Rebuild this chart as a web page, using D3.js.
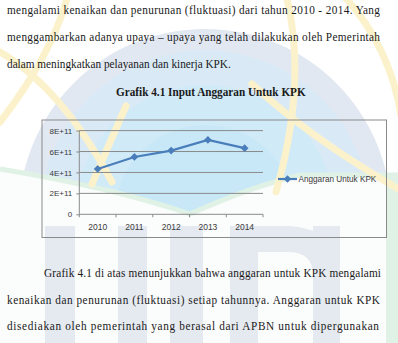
<!DOCTYPE html>
<html>
<head>
<meta charset="utf-8">
<script src="https://cdn.jsdelivr.net/npm/d3@7"></script>
<style>
  body { margin: 0; background: #fff; }
  svg { display: block; }
</style>
</head>
<body>
<div id="page"></div>
<script>
// data
const years = ["2010", "2011", "2012", "2013", "2014"];
const anggaran = [4.33e11, 5.48e11, 6.09e11, 7.11e11, 6.32e11];
const yTicks = [0, 2e11, 4e11, 6e11, 8e11];
const yTickLabels = ["0", "2E+11", "4E+11", "6E+11", "8E+11"];
const seriesName = "Anggaran Untuk KPK";
const chartTitle = "Grafik 4.1 Input Anggaran Untuk KPK";
const textAbove = [
  "mengalami kenaikan dan penurunan (fluktuasi) dari tahun 2010 - 2014. Yang",
  "menggambarkan adanya upaya \u2013 upaya yang telah dilakukan oleh Pemerintah",
  "dalam meningkatkan pelayanan dan kinerja KPK."
];
const textBelow = [
  "Grafik 4.1 di atas menunjukkan bahwa anggaran untuk KPK mengalami",
  "kenaikan dan penurunan (fluktuasi) setiap tahunnya. Anggaran untuk KPK",
  "disediakan oleh pemerintah yang berasal dari APBN untuk dipergunakan"
];

const w = 398;
const h = 343;
const box = { left: 42, top: 120, right: 386.5, bottom: 237.5 };
const plot = { left: 79.3, right: 263, top: 130.6, bottom: 214.3 };
const blue = "#4a7ebb";

const svg = d3.select("#page").append("svg").attr("width", w).attr("height", h);

// ---- faint watermark behind the page ----
const wm = svg.append("g");
// pale globe as arc paths (lighter towards the rim)
const disc = (cx0, cy0, r) =>
  `M${cx0 - r},${cy0} A${r},${r} 0 1,1 ${cx0 + r},${cy0} A${r},${r} 0 1,1 ${cx0 - r},${cy0} Z`;
[[186, "#e2e8f2"], [165, "#d9eaf6"], [130, "#d0eaf8"], [90, "#c8e8f8"]].forEach(([r, c]) => {
  wm.append("path").attr("d", disc(205, 215, r)).attr("fill", c);
});
// white area under the green band
wm.append("path")
  .attr("d", "M0,167 Q110,185 190,212 Q250,185 300,173 H398 V343 H0 Z")
  .attr("fill", "#fbfcfc");
wm.append("path")
  .attr("d", "M0,169 Q110,187 190,214 Q250,187 300,175 H398")
  .attr("fill", "none").attr("stroke", "#dff2e5").attr("stroke-width", 5);
wm.append("rect").attr("x", 386).attr("y", 173).attr("width", 12).attr("height", h - 173)
  .attr("fill", "#e0f2e6");
// U I N letter blocks
const letterColor = "#e5e9f0";
[[45, 75], [118, 147], [170, 203], [230, 258], [313, 340]].forEach(([a, b]) => {
  wm.append("rect").attr("x", a).attr("y", 226).attr("width", b - a).attr("height", h - 226)
    .attr("fill", letterColor);
});
wm.append("path")
  .attr("d", "M257,226 H290 Q340,230 340,275 H313 Q313,252 288,252 H257 Z")
  .attr("fill", letterColor);
// atom-like yellow strokes
const ringPaths = [
  "M68,-5 Q52,55 0,122",
  "M0,52 Q62,88 112,182",
  "M126,106 Q110,142 92,184",
  "M286,-5 Q308,80 276,192",
  "M252,84 Q310,138 400,190",
  "M343,-5 Q392,48 402,122"
];
wm.selectAll(".ring")
  .data(ringPaths)
  .enter()
  .append("path")
  .attr("class", "ring")
  .attr("d", (d) => d)
  .attr("fill", "none")
  .attr("stroke", "#fbf2cc")
  .attr("stroke-width", 7)
  .attr("stroke-linecap", "round");

// ---- body text (scan is squeezed horizontally) ----
const serif = "'Liberation Serif', 'Times New Roman', serif";
const fs = 13.5;
function addLine(t, bold) {
  return svg.append("text")
    .attr("font-family", serif).attr("font-size", fs)
    .attr("font-weight", bold ? "bold" : "normal")
    .attr("fill", "#1a1a1a")
    .text(t);
}
// squeeze factor from the one unjustified line (ends near x=231)
const probe = addLine(textAbove[2]);
const sx = 224 / probe.node().getComputedTextLength();
probe.remove();

function para(lines, specs) {
  lines.forEach((t, i) => {
    const [x0, y0, x1] = specs[i];
    const el = addLine(t).attr("transform", `translate(${x0},${y0}) scale(${sx},1)`);
    if (x1) el.attr("textLength", (x1 - x0) / sx).attr("lengthAdjust", "spacing");
  });
}
para(textAbove, [[7, 14, 380], [7, 41, 380], [7, 67.5, null]]);
para(textBelow, [[44, 277, 381], [7, 304, 380], [7, 330, 379]]);

const title = addLine(chartTitle, true);
const tw = title.node().getComputedTextLength();
title.attr("transform", `translate(116,96) scale(${190 / tw},1)`);

// ---- chart ----
svg.append("rect")
  .attr("x", box.left).attr("y", box.top)
  .attr("width", box.right - box.left).attr("height", box.bottom - box.top)
  .attr("fill", "none").attr("stroke", "#8a8a8a").attr("stroke-width", 1);

const xScale = d3.scaleBand().domain(years).range([plot.left, plot.right]);
const yScale = d3.scaleLinear().domain([0, 8e11]).range([plot.bottom, plot.top]);

const sans = "'Liberation Sans', Arial, sans-serif";
const chart = svg.append("g").attr("font-family", sans);

// gridlines
chart.append("g")
  .selectAll("line")
  .data(yTicks.slice(1))
  .enter()
  .append("line")
  .attr("x1", plot.left).attr("x2", plot.right)
  .attr("y1", (d) => yScale(d)).attr("y2", (d) => yScale(d))
  .attr("stroke", "#8a8a8a").attr("stroke-width", 1);

const yAxis = d3.axisLeft(yScale)
  .tickValues(yTicks)
  .tickFormat((d, i) => yTickLabels[i])
  .tickSize(3)
  .tickPadding(4);
const yG = chart.append("g").attr("transform", `translate(${plot.left},0)`).call(yAxis);
yG.select(".domain").attr("stroke", "#8a8a8a").attr("d", `M0,${plot.top}V${plot.bottom}`);
yG.selectAll(".tick line").attr("stroke", "#8a8a8a");
yG.selectAll(".tick text").attr("font-size", 8).attr("font-family", sans).attr("fill", "#3a3a3a");

const xAxis = d3.axisBottom(xScale).tickSize(0).tickPadding(10);
const xG = chart.append("g").attr("transform", `translate(0,${plot.bottom})`).call(xAxis);
xG.select(".domain").attr("stroke", "#8a8a8a").attr("d", `M${plot.left},0H${plot.right}`);
xG.selectAll(".tick text").attr("font-size", 8.5).attr("font-family", sans).attr("fill", "#3a3a3a");
// category boundary ticks
const bounds = years.map((d) => xScale(d)).concat([xScale.range()[1]]);
xG.selectAll(".bound")
  .data(bounds)
  .enter()
  .append("line")
  .attr("class", "bound")
  .attr("x1", (d) => d).attr("x2", (d) => d)
  .attr("y1", 0).attr("y2", 3)
  .attr("stroke", "#8a8a8a");

// series line + diamond markers
const cx = (d, i) => xScale(years[i]) + xScale.bandwidth() / 2;
const line = d3.line().x(cx).y((d) => yScale(d));
chart.append("path")
  .datum(anggaran)
  .attr("d", line)
  .attr("fill", "none")
  .attr("stroke", blue)
  .attr("stroke-width", 2.2);

const diamond = d3.symbol().type(d3.symbolSquare).size(30);
chart.selectAll(".marker")
  .data(anggaran)
  .enter()
  .append("path")
  .attr("class", "marker")
  .attr("d", diamond)
  .attr("transform", (d, i) => `translate(${cx(d, i)},${yScale(d)}) rotate(45)`)
  .attr("fill", blue);

// legend
const lg = chart.append("g").attr("transform", "translate(278,179)");
lg.append("line").attr("x1", 0).attr("x2", 19).attr("y1", 0).attr("y2", 0)
  .attr("stroke", blue).attr("stroke-width", 2.2);
lg.append("path").attr("d", diamond).attr("transform", "translate(9.5,0) rotate(45)")
  .attr("fill", blue);
lg.append("text").attr("x", 20.5).attr("y", 3)
  .attr("font-size", 8.2).attr("fill", "#3a3a3a")
  .text(seriesName);
</script>
</body>
</html>
